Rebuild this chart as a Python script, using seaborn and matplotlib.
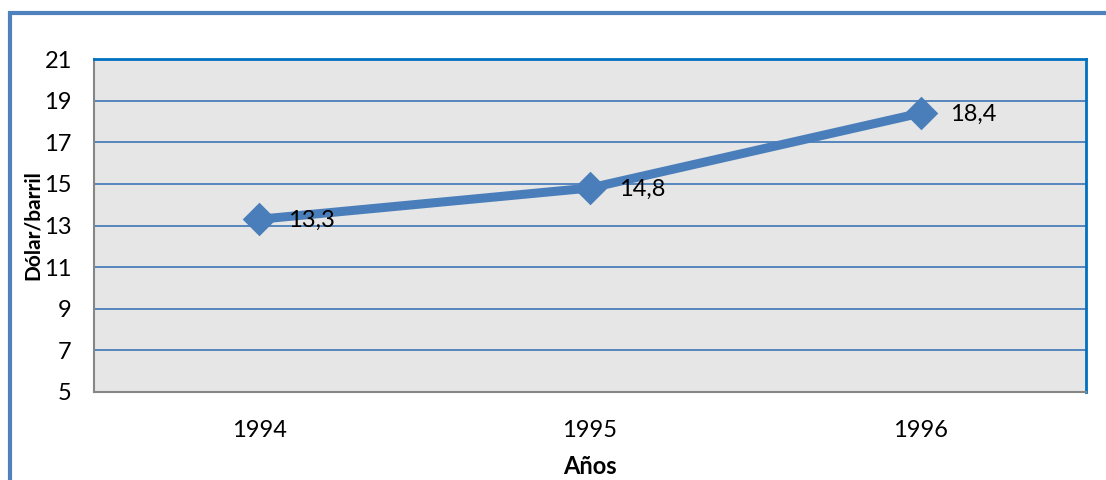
import matplotlib
matplotlib.use("Agg")
import matplotlib.pyplot as plt
from matplotlib.patches import Rectangle
import seaborn as sns
import pandas as pd

# Oil price by year (dollars per barrel)
years = ["1994", "1995", "1996"]
prices = [13.3, 14.8, 18.4]
y_ticks = [5, 7, 9, 11, 13, 15, 17, 19, 21]

sns.set_theme(style="white")
plt.rcParams["font.family"] = ["Lato", "DejaVu Sans"]

W, H = 1106, 480
fig = plt.figure(figsize=(W / 100, H / 100), dpi=100)
ax = fig.add_axes([94 / W, 1 - 392 / H, (1086 - 94) / W, (392 - 59) / H])

line_blue = "#4A7EBB"
df = pd.DataFrame({"Año": years, "Precio": prices})
sns.pointplot(data=df, x="Año", y="Precio", color=line_blue, markers="D",
              markersize=12, linewidth=6.5, ax=ax, errorbar=None)

ax.set_facecolor("#E6E6E6")
ax.set_ylim(5, 21)
ax.set_xlim(-0.5, 2.5)
ax.set_yticks(y_ticks)
ax.set_yticklabels([str(v) for v in y_ticks])
for v in y_ticks[1:-1]:
    ax.axhline(v, color=line_blue, lw=1.3, zorder=0.5)

ax.tick_params(axis="y", length=0, pad=16, labelsize=17, colors="black")
ax.tick_params(axis="x", length=0, pad=20, labelsize=17, colors="black")

ax.set_xlabel("Años", fontsize=17, fontweight="bold", labelpad=10, color="black")
ax.set_ylabel("Dólar/barril", fontsize=15, fontweight="bold", labelpad=1, color="black")

for side in ("left", "bottom"):
    ax.spines[side].set_color("#868686")
    ax.spines[side].set_linewidth(1.5)
for side in ("top", "right"):
    ax.spines[side].set_color("#0070C0")
    ax.spines[side].set_linewidth(2)

# Value labels to the right of each point
for i, v in enumerate(prices):
    ax.annotate(f"{v:.1f}".replace(".", ","), (i, v), xytext=(21, -1),
                textcoords="offset points", ha="left", va="center",
                fontsize=17, color="black")

# Outer chart frame (runs past the right and bottom edges)
fig.add_artist(Rectangle((10 / W, -0.1), 1.2, 1 - 13.5 / H + 0.1,
                         transform=fig.transFigure, fill=False,
                         edgecolor="#4F81BD", linewidth=3))

fig.savefig("out.png", dpi=100)
